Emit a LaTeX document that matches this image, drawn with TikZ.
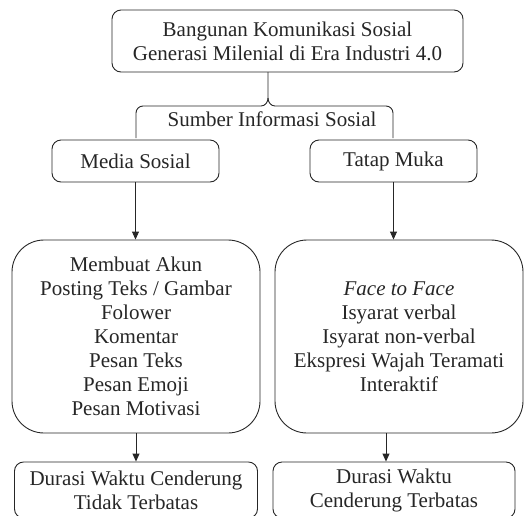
\documentclass[tikz,border=0pt]{standalone}
\usepackage{fontspec}
\setmainfont{Liberation Serif}
\usetikzlibrary{arrows.meta}
\begin{document}
\begin{tikzpicture}[x=1pt,y=-1pt,
  every node/.style={text=black!85, font=\fontsize{21}{24}\selectfont},
  box/.style={draw=black!85, line width=0.9pt, rounded corners=9pt, align=center, inner sep=0pt},
  bigbox/.style={box, rounded corners=32pt},
  arr/.style={draw=black!85, line width=0.9pt, -{Triangle[length=8pt,width=7pt]}},
  brace/.style={draw=black!85, line width=0.9pt}]
\useasboundingbox (0,0) rectangle (527,515);
\clip (0,0) rectangle (527,515);
\node[box, minimum width=351pt, minimum height=62pt] (top) at (287.5,41)
  {Bangunan Komunikasi Sosial\\Generasi Milenial di Era Industri 4.0};
\node[box, minimum width=167pt, minimum height=42pt] (media) at (135.5,161) {Media Sosial};
\node[box, minimum width=167pt, minimum height=42pt] (tatap) at (393.5,161) {Tatap Muka};
\node[bigbox, minimum width=248pt, minimum height=193pt] (lbig) at (136,336.5)
  {Membuat Akun\\Posting Teks / Gambar\\Folower\\Komentar\\Pesan Teks\\Pesan Emoji\\Pesan Motivasi};
\node[bigbox, minimum width=248pt, minimum height=193pt] (rbig) at (399,336.5)
  {\textit{Face to Face}\\Isyarat verbal\\Isyarat non-verbal\\Ekspresi Wajah Teramati\\Interaktif};
\node[box, minimum width=243pt, minimum height=56pt] (lbot) at (136,490)
  {Durasi Waktu Cenderung\\Tidak Terbatas};
\node[box, minimum width=242pt, minimum height=56pt] (rbot) at (394,490)
  {Durasi Waktu\\Cenderung Terbatas};
% brace
\coordinate (tip) at (268,72);
\coordinate (mid) at (268,98);
\coordinate (bl) at (136,138);
\coordinate (br) at (393,138);
\draw[brace] (tip) -- (mid) to[out=-90,in=0] (261,106) -- (143,106)
  to[out=180,in=90] (136,113) -- (bl);
\draw[brace] (mid) to[out=-90,in=180] (275,106) -- (386,106)
  to[out=0,in=90] (393,113) -- (br);
\node (sumber) at (272,119) {Sumber Informasi Sosial};
% arrows
\draw[arr] (media.south) -- (media.south |- lbig.north);
\draw[arr] (tatap.south) -- (tatap.south |- rbig.north);
\draw[arr] (lbig.south) -- (lbig.south |- lbot.north);
\draw[arr] ([xshift=-13pt]rbig.south) -- ([xshift=-13pt]rbig.south |- rbot.north);
\end{tikzpicture}
\end{document}
